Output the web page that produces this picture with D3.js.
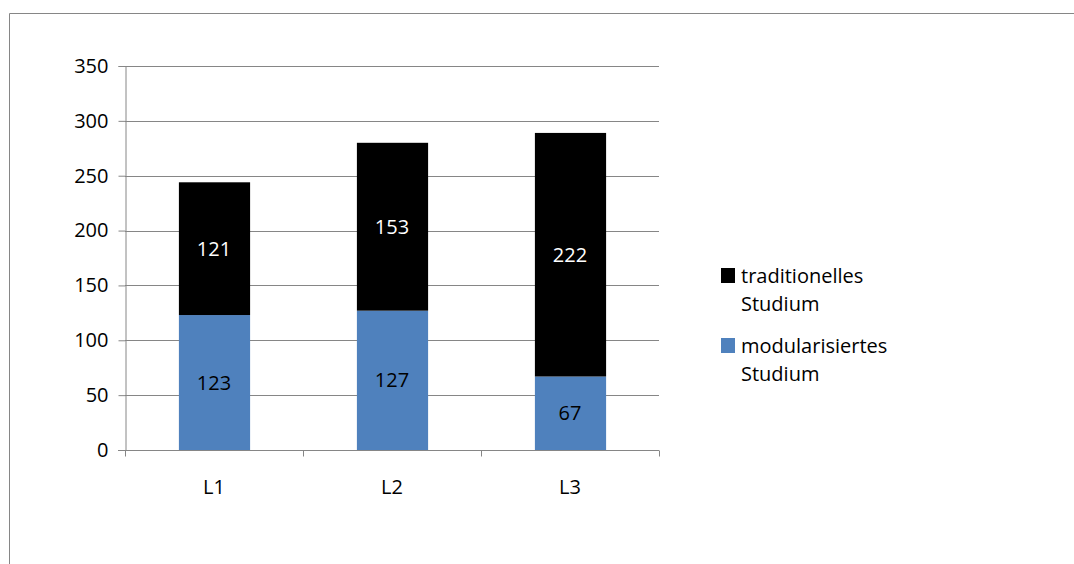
<!DOCTYPE html>
<html>
<head>
<meta charset="utf-8">
<script src="https://cdn.jsdelivr.net/npm/d3@7"></script>
<style>
  body { margin: 0; background: #fff; }
  svg { display: block; }
  text { font-family: "Open Sans", sans-serif; }
</style>
</head>
<body>
<svg id="chart" width="1074" height="564"></svg>
<script>
const categories = ["L1", "L2", "L3"]
const modularisiert = [123, 127, 67]
const traditionell = [121, 153, 222]
const yTicks = [0, 50, 100, 150, 200, 250, 300, 350]
const seriesNames = ["modularisiertes Studium", "traditionelles Studium"]
const seriesColors = ["#4F81BD", "#000000"]

const fontSize = 20
const svg = d3.select("#chart")

// outer chart frame (runs off the right and bottom edge)
svg.append("path")
  .attr("d", "M9.5,570 V13.5 H1080")
  .attr("fill", "none")
  .attr("stroke", "#868686")
  .attr("stroke-width", 1)

const plot = { left: 125, right: 659, top: 66, bottom: 450 }

const x = d3.scaleBand()
  .domain(categories)
  .range([plot.left, plot.right])
  .paddingInner(0.6)
  .paddingOuter(0.3)

const y = d3.scaleLinear()
  .domain([0, 350])
  .range([plot.bottom, plot.top])

// gridlines
svg.append("g")
  .selectAll("line")
  .data(yTicks.filter(d => d > 0))
  .join("line")
  .attr("x1", plot.left)
  .attr("x2", plot.right)
  .attr("y1", d => Math.round(y(d)) + 0.5)
  .attr("y2", d => Math.round(y(d)) + 0.5)
  .attr("stroke", "#868686")

// stacked bars
const rows = categories.map((c, i) => ({ cat: c, mod: modularisiert[i], trad: traditionell[i] }))
const stack = d3.stack().keys(["mod", "trad"])(rows)

const layers = svg.append("g")
  .selectAll("g")
  .data(stack)
  .join("g")
  .attr("fill", (d, i) => seriesColors[i])

layers.selectAll("rect")
  .data(d => d)
  .join("rect")
  .attr("x", d => x(d.data.cat) + 0.5)
  .attr("width", x.bandwidth())
  .attr("y", d => y(d[1]))
  .attr("height", d => y(d[0]) - y(d[1]))

// value labels
layers.each(function (layer, li) {
  d3.select(this).selectAll("text")
    .data(layer)
    .join("text")
    .attr("x", d => x(d.data.cat) + x.bandwidth() / 2)
    .attr("y", d => (y(d[0]) + y(d[1])) / 2)
    .attr("dy", "0.35em")
    .attr("text-anchor", "middle")
    .attr("font-size", fontSize)
    .attr("fill", li === 1 ? "#fff" : "#000")
    .text(d => d[1] - d[0])
})

// y axis
const yAxis = d3.axisLeft(y).tickValues(yTicks).tickSize(7).tickPadding(10)
const gy = svg.append("g")
  .attr("transform", `translate(${plot.left + 0.5},0)`)
  .call(yAxis)
gy.select(".domain").attr("stroke", "#868686")
gy.selectAll(".tick line").attr("stroke", "#868686")
gy.selectAll(".tick text").attr("font-size", fontSize).attr("fill", "#000")
  .style("font-family", "'Open Sans', sans-serif")

// x axis with tick marks between categories
const gx = svg.append("g")
  .attr("transform", `translate(0,${plot.bottom + 0.5})`)
gx.append("line")
  .attr("x1", plot.left - 7).attr("x2", plot.right)
  .attr("stroke", "#868686")
const step = (plot.right - plot.left) / categories.length
gx.selectAll("line.sep")
  .data(d3.range(categories.length + 1))
  .join("line")
  .attr("class", "sep")
  .attr("x1", i => Math.round(plot.left + i * step) + 0.5)
  .attr("x2", i => Math.round(plot.left + i * step) + 0.5)
  .attr("y1", 0).attr("y2", 6)
  .attr("stroke", "#868686")
gx.selectAll("text")
  .data(categories)
  .join("text")
  .attr("x", d => x(d) + x.bandwidth() / 2)
  .attr("y", 43)
  .attr("text-anchor", "middle")
  .attr("font-size", fontSize)
  .text(d => d)

// legend (traditionell on top)
const legendItems = [
  { lines: ["traditionelles", "Studium"], color: seriesColors[1] },
  { lines: ["modularisiertes", "Studium"], color: seriesColors[0] }
]
const legend = svg.append("g")
legendItems.forEach((item, i) => {
  const g = legend.append("g").attr("transform", `translate(721,${268 + i * 70})`)
  g.append("rect").attr("width", 14).attr("height", 15).attr("fill", item.color)
  const t = g.append("text").attr("x", 20).attr("y", 15).attr("font-size", fontSize)
  item.lines.forEach((l, j) => {
    t.append("tspan").attr("x", 20).attr("dy", j === 0 ? 0 : 28).text(l)
  })
})
</script>
</body>
</html>
